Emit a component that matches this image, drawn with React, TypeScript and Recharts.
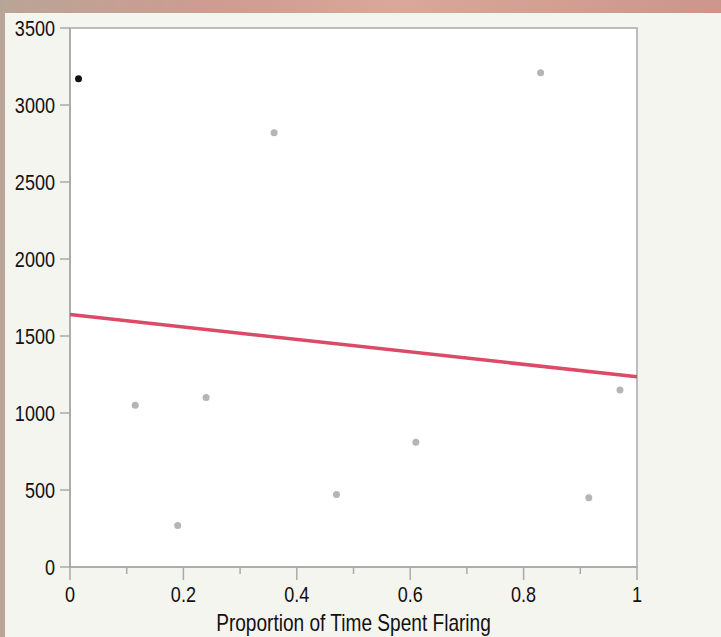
import React from 'react';
import {
  ScatterChart,
  Scatter,
  XAxis,
  YAxis,
  CartesianGrid,
  ReferenceArea,
} from 'recharts';

const FONT = '"Liberation Sans", Arial, sans-serif';
const SQUEEZE = 0.82; // the source uses a condensed face

const flaring = [0.115, 0.19, 0.24, 0.36, 0.47, 0.61, 0.83, 0.915, 0.97];
const values = [1050, 270, 1100, 2820, 470, 810, 3210, 450, 1150];

// the one highlighted (black) point
const highlightX = [0.015];
const highlightY = [3170];

// fitted line end points
const fitX = [0, 1];
const fitY = [1640, 1235];

const xTicks = [0, 0.1, 0.2, 0.3, 0.4, 0.5, 0.6, 0.7, 0.8, 0.9, 1];
const yTicks = [0, 500, 1000, 1500, 2000, 2500, 3000, 3500];

const points = flaring.map((x, i) => ({ x, y: values[i] }));
const highlight = highlightX.map((x, i) => ({ x, y: highlightY[i] }));
const fit = fitX.map((x, i) => ({ x, y: fitY[i] }));

const AXIS_COLOR = '#a9a9a9';

const Narrow = ({ x, y, anchor, dy, size = 22, squeeze = SQUEEZE, children }: any) => (
  <text
    transform={`translate(${x},${y}) scale(${squeeze},1)`}
    dy={dy}
    textAnchor={anchor}
    fill="#111"
    fontSize={size}
    fontFamily={FONT}
  >
    {children}
  </text>
);

const XTick = (props: any) => {
  const { x, y, payload } = props;
  const v = Math.round(payload.value * 10);
  const major = v % 2 === 0;
  return (
    <g>
      <line x1={x} x2={x} y1={y} y2={y + (major ? 13 : 7)} stroke={AXIS_COLOR} strokeWidth={1.5} />
      {major && (
        <Narrow x={x} y={y + 19} anchor="middle" dy="0.72em">
          {String(payload.value)}
        </Narrow>
      )}
    </g>
  );
};

const YTick = (props: any) => {
  const { x, y, payload } = props;
  return (
    <Narrow x={x} y={y} anchor="end" dy="0.36em">
      {String(payload.value)}
    </Narrow>
  );
};

const XLabel = (props: any) => {
  const vb = props.viewBox || {};
  return (
    <Narrow x={vb.x + vb.width / 2} y={vb.y + vb.height - 6} anchor="middle" size={23} squeeze={0.83}>
      Proportion of Time Spent Flaring
    </Narrow>
  );
};

const Dot = (color: string, r: number) => (props: any) =>
  <circle cx={props.cx} cy={props.cy} r={r} fill={color} />;

export default function App() {
  return (
    <div
      style={{
        position: 'fixed',
        left: 0,
        top: 0,
        width: 721,
        height: 637,
        overflow: 'hidden',
        background: 'linear-gradient(90deg, #b9a597 0%, #cf9c90 30%, #d8a898 55%, #cc968b 100%)',
      }}
    >
      <div
        style={{
          position: 'absolute',
          left: 5,
          top: 13,
          right: 0,
          bottom: 0,
          background: '#f5f5f0',
        }}
      />
      <div style={{ position: 'absolute', left: 0, top: 0 }}>
        <ScatterChart
          width={721}
          height={637}
          margin={{ top: 28, right: 84, left: 0, bottom: 0 }}
        >
          <CartesianGrid horizontal={false} vertical={false} fill="#ffffff" />
          <XAxis
            type="number"
            dataKey="x"
            domain={[0, 1]}
            ticks={xTicks}
            interval={0}
            height={70}
            tickSize={0}
            tickMargin={0}
            tickLine={false}
            axisLine={{ stroke: AXIS_COLOR, strokeWidth: 1.5 }}
            tick={<XTick />}
            label={<XLabel />}
          />
          <YAxis
            type="number"
            dataKey="y"
            domain={[0, 3500]}
            ticks={yTicks}
            interval={0}
            width={70}
            tickSize={10}
            tickMargin={5}
            tickLine={{ stroke: AXIS_COLOR, strokeWidth: 1.5 }}
            axisLine={{ stroke: AXIS_COLOR, strokeWidth: 1.5 }}
            tick={<YTick />}
          />
          <ReferenceArea
            x1={0}
            x2={1}
            y1={0}
            y2={3500}
            fill="none"
            fillOpacity={0}
            stroke="#bdbdbd"
            strokeWidth={2}
            ifOverflow="visible"
          />
          <Scatter
            data={fit}
            line={{ stroke: '#db4a66', strokeWidth: 3.5 }}
            lineType="joint"
            shape={() => <g />}
            isAnimationActive={false}
          />
          <Scatter data={points} shape={Dot('#b5b5b5', 3.5)} isAnimationActive={false} />
          <Scatter data={highlight} shape={Dot('#111111', 3.5)} isAnimationActive={false} />
        </ScatterChart>
      </div>
    </div>
  );
}
